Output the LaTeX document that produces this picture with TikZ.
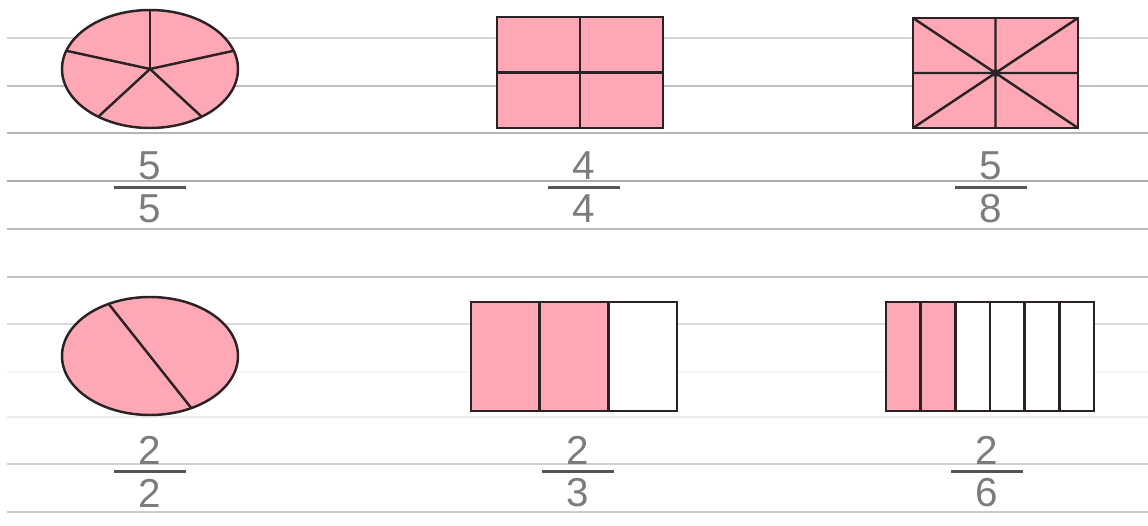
\documentclass[tikz,border=0pt]{standalone}
\usepackage{fontspec}
\setmainfont{Liberation Sans}
\usetikzlibrary{positioning,calc}
\definecolor{PINK}{HTML}{FFA8B5}
\definecolor{EDGE}{HTML}{2A2225}
\definecolor{DIGIT}{HTML}{7C7C7C}
\definecolor{BAR}{HTML}{555555}
\tikzset{
    part/.style={draw=EDGE,line width=1.4pt,line join=miter},
    digit/.style={inner sep=0pt,text=DIGIT,font=\fontsize{23}{23}\selectfont},
    fracbar/.style={draw=BAR,line width=1.2pt}
}
\def\Frac(#1,#2)#3#4#5{
    \node[digit] (#5num) at (#1,#2) {#3};
    \node[digit] (#5den) at (#1,#2+43) {#4};
    \draw[fracbar] ($(#5num)!.5!(#5den)+(-36,0)$) -- ++(72,0);
}

\begin{document}
\begin{tikzpicture}[x=0.02cm,y=-0.02cm]
        \useasboundingbox (0,0) rectangle (1148,526);
        % ruled paper
        \foreach \y/\g in {38/17,86/25,133/29,181/33,229/28,277/23,324/15,372/4,417/8,464/18,512/20}{\draw[line width=1.1pt,black!\g](7,\y) -- (1148,\y);}

        % 5/5 ellipse
        \draw[part,fill=PINK] (150,69) ellipse [x radius=88, y radius=59];
        \foreach \a in {-90,-18,54,126,198}{\draw[part] (150,69) -- ($(150,69)+(\a:88 and 59)$);}
        % 4/4 rectangle
        \draw[part,fill=PINK] (497,17) rectangle (663,128);
        \draw[part] (580,17) -- (580,128) (497,72.5) -- (663,72.5);
        % 5/8 rectangle
        \draw[part,fill=PINK] (913,18) rectangle (1078,128);
        \draw[part] (995.5,18) -- (995.5,128) (913,73) -- (1078,73)
            (913,18) -- (1078,128) (913,128) -- (1078,18);
        \fill[EDGE] (995.5,73) circle [radius=4];

        % 2/2 ellipse
        \draw[part,fill=PINK] (150,356) ellipse [x radius=88, y radius=59];
        \draw[part] ($(150,356)+(-118:88 and 59)$) -- ($(150,356)+(62:88 and 59)$);
        % 2/3 strip
        \foreach \i in {0,1,2}{
            \ifnum\i<2 \def\c{PINK}\else\def\c{white}\fi
            \draw[part,fill=\c] (471+\i*68.67,302) rectangle ++(68.67,109);
        }
        % 2/6 strip
        \foreach \i in {0,...,5}{
            \ifnum\i<2 \def\c{PINK}\else\def\c{white}\fi
            \draw[part,fill=\c] (886+\i*34.67,302) rectangle ++(34.67,109);
        }

        % fractions
        \Frac(150,166){5}{5}{A}
        \Frac(584,166){4}{4}{B}
        \Frac(991,166){5}{8}{C}
        \Frac(150,450){2}{2}{D}
        \Frac(578,450){2}{3}{E}
        \Frac(987,450){2}{6}{F}
    \end{tikzpicture}
\end{document}
